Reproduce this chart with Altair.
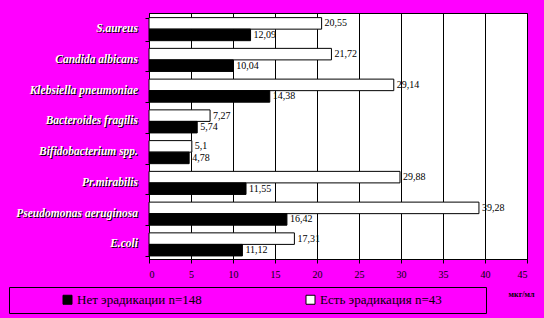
import altair as alt
import pandas as pd

categories = ["S.aureus", "Candida albicans", "Klebsiella pneumoniae", "Bacteroides fragilis",
              "Bifidobacterium spp.", "Pr.mirabilis", "Pseudomonas aeruginosa", "E.coli"]
series_yes = "Есть эрадикация n=43"
series_no = "Нет эрадикации n=148"
values_yes = [20.55, 21.72, 29.14, 7.27, 5.1, 29.88, 39.28, 17.31]
values_no = [12.09, 10.04, 14.38, 5.74, 4.78, 11.55, 16.42, 11.12]
x_ticks = [0, 5, 10, 15, 20, 25, 30, 35, 40, 45]
unit = "мкг/мл"

rows = []
for c, a, b in zip(categories, values_yes, values_no):
    rows.append({"cat": c, "series": series_yes, "value": a})
    rows.append({"cat": c, "series": series_no, "value": b})
df = pd.DataFrame(rows)
cat_df = pd.DataFrame({"cat": categories})

FONT = "Liberation Serif"

y_enc = alt.Y("cat:N", sort=categories,
              scale=alt.Scale(paddingInner=0.25, paddingOuter=0.125, align=0.6),
              axis=alt.Axis(title=None, labels=False, domainColor="black", tickColor="black",
                            tickSize=4, tickBand="extent", grid=False))
yoff = alt.YOffset("series:N", sort=[series_yes, series_no])

x_enc = alt.X("value:Q", scale=alt.Scale(domain=[0, 45], nice=False),
              axis=alt.Axis(values=x_ticks, title=unit, grid=True, gridColor="black", gridOpacity=1,
                            domainColor="black", tickColor="black", tickSize=4,
                            labelFont=FONT, labelFontSize=10, labelColor="black", labelPadding=6,
                            titleFont=FONT, titleFontSize=8, titleFontWeight="bold", titleColor="black",
                            titleX=372, titleY=35, titleAlign="center", titleBaseline="middle"))

bars = alt.Chart(df).mark_bar(stroke="black", strokeWidth=1).encode(
    y=y_enc, yOffset=yoff, x=x_enc,
    color=alt.Color("series:N",
                    scale=alt.Scale(domain=[series_no, series_yes], range=["black", "white"]),
                    legend=alt.Legend(title="\u00a0", titleOrient="right", titlePadding=38,
                                      orient="none", legendX=-140, legendY=274,
                                      direction="horizontal", columns=2, columnPadding=56,
                                      symbolType="square", symbolSize=81, symbolStrokeColor="black",
                                      symbolStrokeWidth=1, symbolOffset=46, labelOffset=3,
                                      labelFont=FONT, labelFontSize=13, labelColor="black",
                                      labelLimit=300,
                                      strokeColor="black", padding=6,
                                      fillColor="#FF00FF")),
)

value_labels = alt.Chart(df).transform_calculate(
    lab="replace(toString(datum.value), '.', ',')"
).mark_text(align="left", baseline="middle", dx=3, font=FONT, fontSize=10, color="black").encode(
    y=alt.Y("cat:N", sort=categories), yOffset=yoff, x=alt.X("value:Q"), text="lab:N"
)

shadow = alt.Chart(cat_df).mark_text(align="right", baseline="middle", font=FONT, fontSize=11.5,
                                     fontWeight="bold", fontStyle="italic", color="black",
                                     dx=1, dy=1).encode(
    y=alt.Y("cat:N", sort=categories), x=alt.value(-11), text="cat:N"
)
cat_labels = alt.Chart(cat_df).mark_text(align="right", baseline="middle", font=FONT, fontSize=11.5,
                                         fontWeight="bold", fontStyle="italic", color="white").encode(
    y=alt.Y("cat:N", sort=categories), x=alt.value(-11), text="cat:N"
)

chart = alt.layer(bars, value_labels, shadow, cat_labels).properties(
    width=378, height=246,
    background="#FF00FF",
    padding={"left": 149, "top": 13, "right": 17, "bottom": 59},
    autosize=alt.AutoSizeParams(type="none"),
).configure_view(fill="white", stroke="black", strokeWidth=1
).configure_legend(strokeWidth=1, labelFont=FONT, titleFont=FONT)

chart.save("out.html", embed_options={"renderer": "svg", "actions": False})
